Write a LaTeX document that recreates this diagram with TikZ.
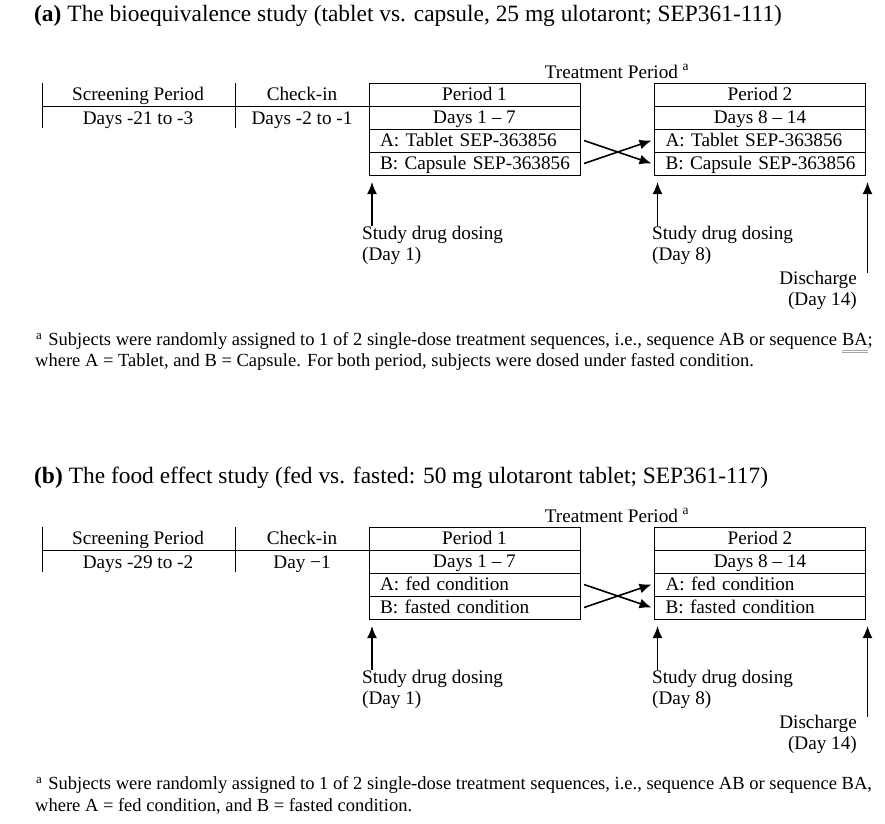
\documentclass[tikz,border=0pt]{standalone}
\usepackage{fontspec}
\setmainfont{Liberation Serif}
\usetikzlibrary{arrows.meta,calc,positioning}
\newcommand{\bodysize}{\fontsize{19.2}{21}\selectfont}
\newcommand{\notesize}{\fontsize{18.5}{21}\selectfont}
\newcommand{\titlesize}{\fontsize{23.4}{26}\selectfont}
\tikzset{
  cell/.style={draw,line width=1pt,minimum width=211pt,minimum height=23pt,
    inner sep=0pt,outer sep=0pt,font=\bodysize,text height=14pt,text depth=3pt},
  leftcell/.style={cell,text width=211pt,align=left,execute at begin node=\hspace*{11pt}},
  body/.style={inner sep=0pt,font=\bodysize,text height=14pt,text depth=3pt},
  label/.style={inner sep=0pt,font=\bodysize},
  note/.style={inner sep=0pt,anchor=west,font=\notesize},
  uparrow/.style={-{Latex[length=12pt,width=10pt]},line width=1.6pt},
  swaparrow/.style={-{Latex[length=12pt,width=10pt]},line width=1.6pt},
  rule/.style={line width=1pt}
}
\begin{document}
\begin{tikzpicture}[x=1pt,y=-1pt]
\useasboundingbox[fill=white] (0,0) rectangle (885,823);

% (a) Title.
\node[anchor=west,inner sep=0pt,font=\titlesize] (ttla) at (34,16)
  {\textbf{(a)}\hspace{6pt}The bioequivalence study (tablet vs. capsule, 25 mg ulotaront; SEP361-111)};

% Screening and check-in.
\draw[rule] (42,83) -- (42,128);
\draw[rule] (235,83) -- (235,128);
\node[body] (ascr) at (138,95) {Screening Period};
\node[body] (ascrd) at (138,119) {Days -21 to -3};
\node[body] (achk) at (302,95) {Check-in};
\node[body] (achkd) at (302,119) {Days -2 to -1};

% Period 1 and period 2.
\node[body] (atrt) at (617,73) {Treatment Period \textsuperscript{a}};
\node[cell] (aP1) at (474.5,94.5) {Period 1};
\node[cell,below=0pt of aP1] (aD1) {Days 1 -- 7};
\node[leftcell,below=0pt of aD1] (aA1) {A: Tablet SEP-363856};
\node[leftcell,below=0pt of aA1] (aB1) {B: Capsule SEP-363856};
\node[cell] (aP2) at (760,94.5) {Period 2};
\node[cell,below=0pt of aP2] (aD2) {Days 8 -- 14};
\node[leftcell,below=0pt of aD2] (aA2) {A: Tablet SEP-363856};
\node[leftcell,below=0pt of aA2] (aB2) {B: Capsule SEP-363856};
\draw[rule] (42,106) -- (aP1.south west);

% Crossover.
\draw[swaparrow] ($(aA1.east)+(4,0)$) -- ($(aB2.west)+(-3,0)$);
\draw[swaparrow] ($(aB1.east)+(4,0)$) -- ($(aA2.west)+(-3,0)$);

% Dosing and discharge.
\node[label,anchor=north west,align=left] (adose1) at (362,226) {Study drug dosing\\(Day 1)};
\node[label,anchor=north west,align=left] (adose2) at (652,226) {Study drug dosing\\(Day 8)};
\node[label,anchor=north east,align=right] (adis) at (857,271) {Discharge\\(Day 14)};
\draw[uparrow] ($(aB1.south west |- adose1.north)+(3,0)$) -- ($(aB1.south west)+(3,7)$);
\draw[uparrow] ($(aB2.south west |- adose2.north)+(3,0)$) -- ($(aB2.south west)+(3,7)$);
\draw[uparrow] ($(aB2.south east |- adis.north)+(2,2)$) -- ($(aB2.south east)+(2,7)$);

% Footnote.
\node[note] (afn1) at (36,341) {\textsuperscript{a}\hspace{6pt}Subjects were randomly assigned to 1 of 2 single-dose treatment sequences, i.e., sequence AB or sequence};
\node[note,right=4.6pt of afn1] (aba) {BA;};
\node[note] (afn2) at (35,362) {where A = Tablet, and B = Capsule. For both period, subjects were dosed under fasted condition.};
\draw[gray!70,line width=0.6pt] ($(aba.south west)+(0,2)$) -- ($(aba.south east)+(-5,2)$);
\draw[gray!70,line width=0.6pt] ($(aba.south west)+(0,4)$) -- ($(aba.south east)+(-5,4)$);

% (b) Title.
\node[anchor=west,inner sep=0pt,font=\titlesize] (ttlb) at (34,478)
  {\textbf{(b)}\hspace{6pt}The food effect study (fed vs. fasted: 50 mg ulotaront tablet; SEP361-117)};

\begin{scope}[shift={(0,444)}]
% Screening and check-in.
\draw[rule] (42,83) -- (42,128);
\draw[rule] (235,83) -- (235,128);
\node[body] (bscr) at (138,95) {Screening Period};
\node[body] (bscrd) at (138,119) {Days -29 to -2};
\node[body] (bchk) at (302,95) {Check-in};
\node[body] (bchkd) at (302,119) {Day −1};

% Period 1 and period 2.
\node[body] (btrt) at (617,73) {Treatment Period \textsuperscript{a}};
\node[cell] (bP1) at (474.5,94.5) {Period 1};
\node[cell,below=0pt of bP1] (bD1) {Days 1 -- 7};
\node[leftcell,below=0pt of bD1] (bA1) {A: fed condition};
\node[leftcell,below=0pt of bA1] (bB1) {B: fasted condition};
\node[cell] (bP2) at (760,94.5) {Period 2};
\node[cell,below=0pt of bP2] (bD2) {Days 8 -- 14};
\node[leftcell,below=0pt of bD2] (bA2) {A: fed condition};
\node[leftcell,below=0pt of bA2] (bB2) {B: fasted condition};
\draw[rule] (42,106) -- (bP1.south west);

% Crossover.
\draw[swaparrow] ($(bA1.east)+(4,0)$) -- ($(bB2.west)+(-3,0)$);
\draw[swaparrow] ($(bB1.east)+(4,0)$) -- ($(bA2.west)+(-3,0)$);

% Dosing and discharge.
\node[label,anchor=north west,align=left] (bdose1) at (362,226) {Study drug dosing\\(Day 1)};
\node[label,anchor=north west,align=left] (bdose2) at (652,226) {Study drug dosing\\(Day 8)};
\node[label,anchor=north east,align=right] (bdis) at (857,271) {Discharge\\(Day 14)};
\draw[uparrow] ($(bB1.south west |- bdose1.north)+(3,0)$) -- ($(bB1.south west)+(3,7)$);
\draw[uparrow] ($(bB2.south west |- bdose2.north)+(3,0)$) -- ($(bB2.south west)+(3,7)$);
\draw[uparrow] ($(bB2.south east |- bdis.north)+(2,2)$) -- ($(bB2.south east)+(2,7)$);

% Footnote.
\node[note] (bfn1) at (36,341) {\textsuperscript{a}\hspace{6pt}Subjects were randomly assigned to 1 of 2 single-dose treatment sequences, i.e., sequence AB or sequence BA,};
\node[note] (bfn2) at (35,362) {where A = fed condition, and B = fasted condition.};
\end{scope}
\end{tikzpicture}
\end{document}
